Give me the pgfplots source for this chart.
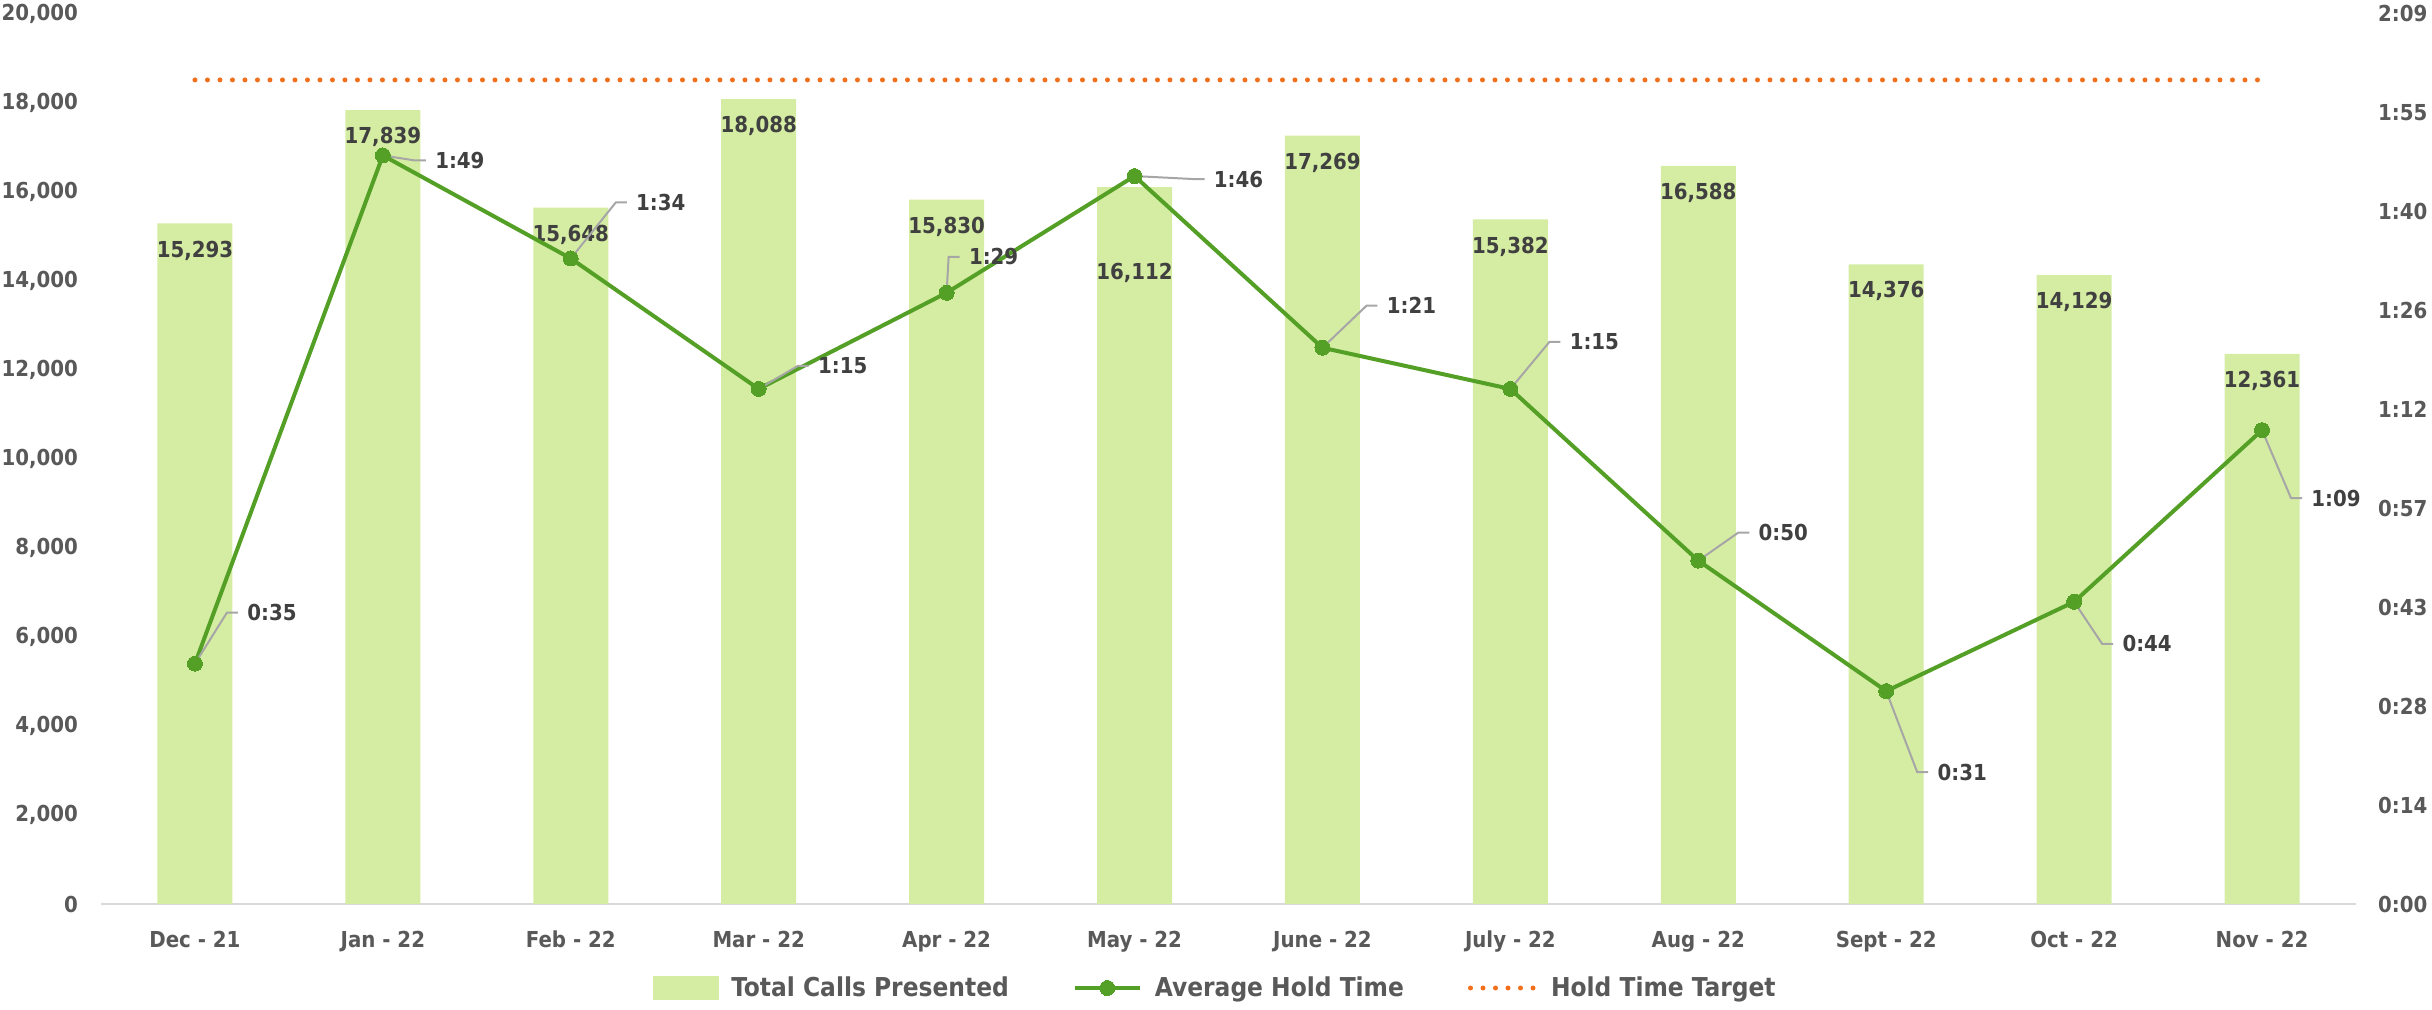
\documentclass[border=0pt]{standalone}
\usepackage{fontspec}
\setmainfont{DejaVuSansCondensed}[Extension=.ttf, UprightFont=*-Bold, BoldFont=*-Bold]
\usepackage{pgfplots}
\pgfplotsset{compat=1.18}

\definecolor{barcol}{RGB}{213,237,163}
\definecolor{linecol}{RGB}{84,160,38}
\definecolor{targetcol}{RGB}{240,112,30}
\definecolor{tickcol}{RGB}{89,89,89}
\definecolor{lblcol}{RGB}{64,64,64}
\definecolor{leadcol}{RGB}{166,166,166}
\definecolor{axcol}{RGB}{217,217,217}

\newcommand{\fs}[1]{\fontsize{#1}{#1}\selectfont}
% bar value label: x, value, yshift
\newcommand{\barlbl}[3]{\node[font=\fs{11}, text=lblcol, inner sep=0pt] at ([yshift=#3pt]axis cs:#1,#2) {\pgfmathprintnumber[1000 sep={,}, assume math mode=true]{#2}};}
% line value label with leader: x, value, dx, dy, text
\newcommand{\holdlbl}[5]{%
  \draw[leadcol, line width=1pt] (axis cs:#1,#2) -- ([shift={(#3pt-10pt,#4pt)}]axis cs:#1,#2) -- ([shift={(#3pt-4.5pt,#4pt)}]axis cs:#1,#2);
  \node[anchor=west, font=\fs{11}, text=lblcol, inner sep=0pt] at ([shift={(#3pt,#4pt)}]axis cs:#1,#2) {#5};}

\begin{document}
\begin{tikzpicture}
\useasboundingbox (-50.5pt,-53pt) rectangle (1165.5pt,452pt);

% calls presented (left axis)
\begin{axis}[at={(0,0)}, anchor=south west, scale only axis,
  width=1127.5pt, height=445pt, clip=false,
  xmin=-0.5, xmax=11.5, ymin=0, ymax=20000,
  xtick={0,...,11},
  xticklabels={Dec - 21, Jan - 22, Feb - 22, Mar - 22, Apr - 22, May - 22, June - 22, July - 22, Aug - 22, Sept - 22, Oct - 22, Nov - 22},
  ytick={0,2000,...,20000}, scaled y ticks=false,
  yticklabel style={/pgf/number format/1000 sep={,}, /pgf/number format/fixed, /pgf/number format/assume math mode=true, font=\fs{11}, text=tickcol, xshift=-8pt},
  xticklabel style={font=\fs{11}, text=tickcol, yshift=-10pt},
  axis x line*=bottom, axis y line*=left,
  x axis line style={-, draw=axcol, line width=1pt},
  y axis line style={draw=none},
  tick style={draw=none}, major tick length=0pt,
  ybar, bar width=37.5pt, bar shift=0pt]
\addplot[fill=barcol, draw=none] coordinates {
  (0,15293) (1,17839) (2,15648) (3,18088) (4,15830) (5,16112)
  (6,17269) (7,15382) (8,16588) (9,14376) (10,14129) (11,12361)};
\barlbl{0}{15293}{-13.5}
\barlbl{1}{17839}{-13.5}
\barlbl{2}{15648}{-13.5}
\barlbl{3}{18088}{-13.5}
\barlbl{4}{15830}{-13.5}
\barlbl{5}{16112}{-43}
\barlbl{6}{17269}{-13.5}
\barlbl{7}{15382}{-13.5}
\barlbl{8}{16588}{-13.5}
\barlbl{9}{14376}{-13.5}
\barlbl{10}{14129}{-13.5}
\barlbl{11}{12361}{-13.5}
\end{axis}

% hold time in seconds (right axis)
\begin{axis}[at={(0,0)}, anchor=south west, scale only axis,
  width=1127.5pt, height=445pt, clip=false,
  xmin=-0.5, xmax=11.5, ymin=0, ymax=129.6,
  hide x axis,
  axis y line*=right, y axis line style={draw=none},
  tick style={draw=none}, major tick length=0pt,
  ytick={0,14.4,28.8,43.2,57.6,72,86.4,100.8,115.2,129.6},
  yticklabels={0:00,0:14,0:28,0:43,0:57,1:12,1:26,1:40,1:55,2:09},
  yticklabel style={font=\fs{11}, text=tickcol, xshift=7.5pt},
  legend columns=3,
  legend style={at={(0.4945,0)}, anchor=center, yshift=-42pt, draw=none, fill=none,
    font=\fs{13}, text=tickcol, inner sep=0pt,
    /tikz/every even column/.append style={column sep=30pt},
    /tikz/every odd column/.append style={column sep=4.5pt}},
  legend image code/.code={\draw[mark repeat=2, mark phase=2] plot coordinates {(0pt,0pt) (16.25pt,0pt) (32.5pt,0pt)};}]
\addlegendimage{legend image code/.code={\fill[barcol] (0pt,-5.75pt) rectangle (32.5pt,5.75pt);}}
\addlegendentry{Total Calls Presented}
\addplot[linecol, line width=2pt, mark=*, mark size=3.75pt, mark options={fill=linecol, draw=linecol, line width=0pt}] coordinates {
  (0,35) (1,109) (2,94) (3,75) (4,89) (5,106)
  (6,81) (7,75) (8,50) (9,31) (10,44) (11,69)};
\addlegendentry{Average Hold Time}
\addplot[targetcol, line width=2.5pt, line cap=round, dash pattern=on 0pt off 6.25pt] coordinates {(0,120) (11,120)};
\addlegendentry{Hold Time Target}
\holdlbl{0}{35}{26}{25.5}{0:35}
\holdlbl{1}{109}{26}{-2.5}{1:49}
\holdlbl{2}{94}{32.5}{28}{1:34}
\holdlbl{3}{75}{29.5}{11.5}{1:15}
\holdlbl{4}{89}{11}{18}{1:29}
\holdlbl{5}{106}{39.5}{-1.5}{1:46}
\holdlbl{6}{81}{32}{21}{1:21}
\holdlbl{7}{75}{29.5}{23.5}{1:15}
\holdlbl{8}{50}{30}{14}{0:50}
\holdlbl{9}{31}{25.5}{-40.5}{0:31}
\holdlbl{10}{44}{24}{-21}{0:44}
\holdlbl{11}{69}{24.5}{-34}{1:09}
\end{axis}
\end{tikzpicture}
\end{document}
